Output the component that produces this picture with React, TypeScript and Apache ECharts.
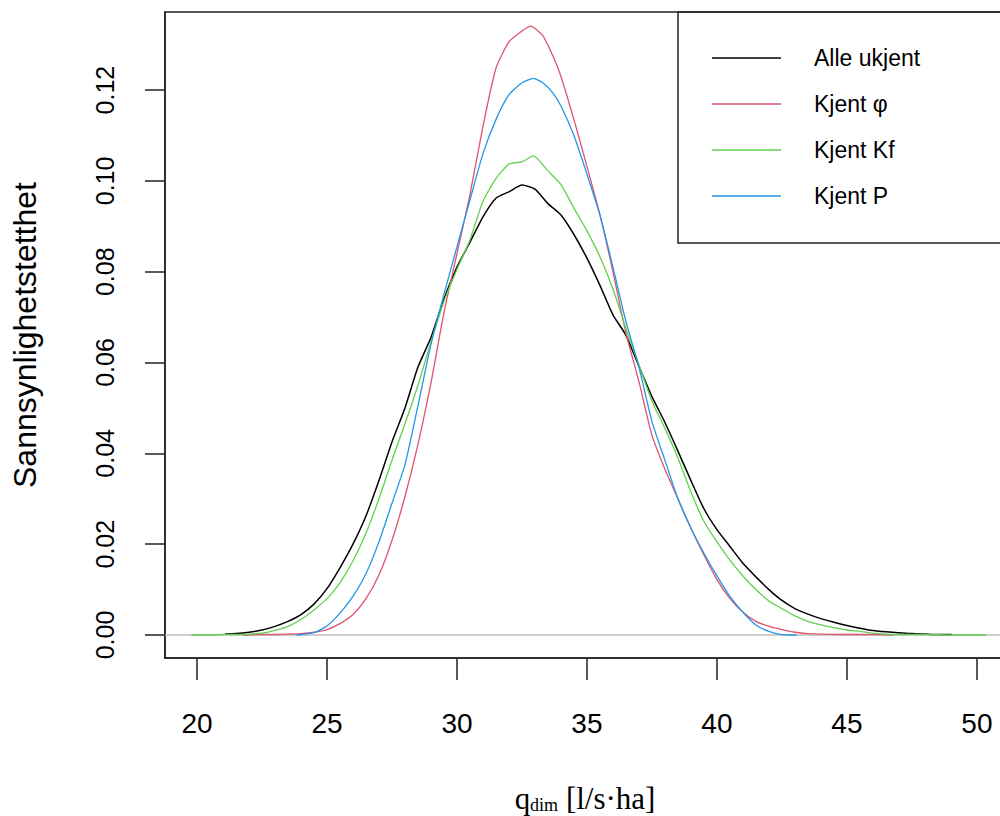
import React, { useEffect, useRef } from "react";
import * as echarts from "echarts";

// Axis ranges and ticks
const X_MIN = 18.77;
const X_MAX = 51.08;
const Y_MIN = -0.00507;
const Y_MAX = 0.1372;
const xTicks = [20, 25, 30, 35, 40, 45, 50];
const yTicks = [0, 0.02, 0.04, 0.06, 0.08, 0.1, 0.12];

const seriesNames = ["Alle ukjent", "Kjent φ", "Kjent Kf", "Kjent P"];
const seriesColors = ["#000000", "#DF536B", "#61D04F", "#2297E6"];

// Alle ukjent (black)
const xAlle = [21.08, 21.5, 22, 22.5, 23, 23.5, 24, 24.5, 25, 25.5, 26, 26.5, 27, 27.5, 28, 28.5, 29, 29.5, 30, 30.5, 31, 31.5, 32, 32.5, 33, 33.5, 34, 34.5, 35, 35.5, 36, 36.5, 37, 37.5, 38, 38.5, 39, 39.5, 40, 40.5, 41, 41.5, 42, 42.5, 43, 43.5, 44, 44.5, 45, 45.5, 46, 46.5, 47, 47.5, 48, 48.5, 49.03];
const yAlle = [0.0002, 0.0003, 0.0006, 0.0011, 0.0019, 0.003, 0.0045, 0.0068, 0.0102, 0.0148, 0.02, 0.0262, 0.034, 0.0425, 0.05, 0.059, 0.0655, 0.074, 0.081, 0.0865, 0.0921, 0.0962, 0.0976, 0.0991, 0.0982, 0.095, 0.0925, 0.0882, 0.083, 0.077, 0.0705, 0.066, 0.0592, 0.0525, 0.0468, 0.0405, 0.034, 0.0278, 0.0232, 0.0195, 0.0158, 0.0128, 0.01, 0.0076, 0.0058, 0.0046, 0.0036, 0.0028, 0.0021, 0.0015, 0.001, 0.0007, 0.0005, 0.0003, 0.0002, 0.0001, 0.0001];

// Kjent φ (red)
const xPhi = [21.77, 22.5, 23, 23.5, 24, 24.5, 25, 25.5, 26, 26.5, 27, 27.5, 28, 28.5, 29, 29.5, 30, 30.5, 31, 31.5, 32, 32.5, 32.83, 33.3, 33.7, 34, 34.5, 35, 35.5, 36, 36.5, 37, 37.5, 38, 38.5, 39, 39.5, 40, 40.5, 41, 41.5, 42, 42.5, 43, 43.5, 44, 45, 46, 46.76];
const yPhi = [0, 0.0001, 0.0001, 0.0002, 0.0003, 0.0006, 0.0012, 0.0025, 0.0045, 0.008, 0.0132, 0.0208, 0.0305, 0.042, 0.0555, 0.071, 0.084, 0.097, 0.112, 0.1248, 0.1306, 0.133, 0.1341, 0.132, 0.1274, 0.123, 0.1135, 0.1032, 0.0925, 0.08, 0.0665, 0.0558, 0.044, 0.0365, 0.03, 0.0235, 0.0176, 0.0122, 0.008, 0.005, 0.003, 0.0019, 0.0012, 0.0006, 0.0003, 0.0002, 0.0001, 0.0001, 0];

// Kjent Kf (green)
const xKf = [19.78, 20.5, 21, 21.5, 22, 22.5, 23, 23.5, 24, 24.5, 25, 25.5, 26, 26.5, 27, 27.5, 28, 28.5, 29, 29.5, 30, 30.5, 31, 31.5, 32, 32.5, 32.94, 33.5, 34, 34.5, 35, 35.5, 36, 36.5, 37, 37.5, 38, 38.5, 39, 39.5, 40, 40.5, 41, 41.5, 42, 42.5, 43, 43.5, 44, 44.5, 45, 45.5, 46, 46.5, 47, 48, 49, 50.37];
const yKf = [0, 0, 0.0001, 0.0001, 0.0002, 0.0004, 0.001, 0.0019, 0.0034, 0.0055, 0.008, 0.0115, 0.0163, 0.0224, 0.03, 0.0385, 0.0465, 0.055, 0.0645, 0.0735, 0.0805, 0.087, 0.0955, 0.1005, 0.1037, 0.1042, 0.1055, 0.1022, 0.0992, 0.094, 0.089, 0.0833, 0.0762, 0.0675, 0.0595, 0.0515, 0.0455, 0.039, 0.0315, 0.025, 0.0205, 0.0165, 0.013, 0.01, 0.0075, 0.0058, 0.0042, 0.003, 0.0022, 0.0016, 0.0011, 0.0008, 0.0004, 0.0002, 0.0001, 0.0001, 0, 0];

// Kjent P (blue)
const xP = [23.83, 24.5, 25, 25.5, 26, 26.5, 27, 27.5, 28, 28.5, 29, 29.5, 30, 30.5, 31, 31.5, 32, 32.5, 32.94, 33.3, 33.7, 34, 34.5, 35, 35.5, 36, 36.5, 37, 37.5, 38, 38.5, 39, 39.5, 40, 40.5, 41, 41.5, 42, 42.5, 43.07];
const yP = [0, 0.0005, 0.002, 0.0048, 0.0085, 0.0135, 0.0205, 0.029, 0.0375, 0.0505, 0.064, 0.075, 0.0855, 0.0958, 0.106, 0.1135, 0.119, 0.1216, 0.1226, 0.1216, 0.1193, 0.1165, 0.11, 0.1015, 0.0925, 0.081, 0.069, 0.059, 0.047, 0.0385, 0.03, 0.0235, 0.018, 0.013, 0.0085, 0.005, 0.0022, 0.0008, 0.0001, 0];

const seriesX = [xAlle, xPhi, xKf, xP];
const seriesY = [yAlle, yPhi, yKf, yP];

const zip = (xs: number[], ys: number[]) => xs.map((x, i) => [x, ys[i]]);

const SANS = "'Liberation Sans', Arial, sans-serif";
const SERIF = "'Liberation Serif', 'Times New Roman', serif";
const AXIS_COLOR = "#222";

export default function App() {
  const ref = useRef<HTMLDivElement>(null);

  useEffect(() => {
    if (!ref.current) return;
    const chart = echarts.init(ref.current, null, { renderer: "svg" });

    const curves = seriesNames.map((name, i) => ({
      name,
      type: "line",
      data: zip(seriesX[i], seriesY[i]),
      symbol: "none",
      smooth: 0.2,
      lineStyle: { color: seriesColors[i], width: i === 0 ? 1.5 : 1.3 },
      itemStyle: { color: seriesColors[i] },
      z: 3 + i,
    }));

    const option: any = {
      animation: false,
      backgroundColor: "#fff",
      grid: {
        left: 165,
        top: 12,
        width: 840,
        height: 646,
        show: true,
        borderColor: AXIS_COLOR,
        borderWidth: 1.5,
        backgroundColor: "transparent",
        outerBoundsMode: "none",
        containLabel: false,
      },
      legend: {
        orient: "vertical",
        left: 712,
        top: 46,
        padding: 0,
        data: seriesNames,
        icon: "rect",
        itemWidth: 69,
        itemHeight: 1.5,
        itemGap: 22,
        selectedMode: false,
        textStyle: {
          fontFamily: SANS,
          fontSize: 23,
          color: "#000",
          padding: [0, 0, 0, 28],
          lineHeight: 24,
        },
      },
      xAxis: {
        type: "value",
        min: X_MIN,
        max: X_MAX,
        splitLine: { show: false },
        axisLine: { show: true, onZero: false, lineStyle: { color: AXIS_COLOR, width: 1.5 } },
        axisTick: {
          show: true,
          customValues: xTicks,
          length: 22,
          lineStyle: { color: AXIS_COLOR, width: 1.5 },
        },
        axisLabel: {
          customValues: xTicks,
          fontFamily: SANS,
          fontSize: 28,
          color: "#000",
          margin: 51,
          formatter: (v: number) => String(v),
        },
        name: "{q|q}{s|dim}{n| [l/s·ha]}",
        nameLocation: "middle",
        nameGap: 122,
        nameTextStyle: {
          rich: {
            q: { fontFamily: SERIF, fontSize: 31, lineHeight: 34, color: "#000", verticalAlign: "bottom" },
            s: { fontFamily: SERIF, fontSize: 18, lineHeight: 34, color: "#000", verticalAlign: "bottom" },
            n: { fontFamily: SERIF, fontSize: 31, lineHeight: 34, color: "#000", verticalAlign: "bottom" },
          },
        },
      },
      yAxis: {
        type: "value",
        min: Y_MIN,
        max: Y_MAX,
        splitLine: { show: false },
        axisLine: { show: true, onZero: false, lineStyle: { color: AXIS_COLOR, width: 1.5 } },
        axisTick: {
          show: true,
          customValues: yTicks,
          length: 20,
          lineStyle: { color: AXIS_COLOR, width: 1.5 },
        },
        axisLabel: {
          customValues: yTicks,
          rotate: 90,
          fontFamily: SANS,
          fontSize: 25,
          color: "#000",
          margin: 48,
          formatter: (v: number) => v.toFixed(2),
        },
        name: "Sannsynlighetstetthet",
        nameLocation: "middle",
        nameRotate: 90,
        nameGap: 124,
        nameTextStyle: {
          fontFamily: SANS,
          fontSize: 32,
          color: "#000",
        },
      },
      graphic: [
        {
          type: "rect",
          shape: { x: 678, y: 12, width: 340, height: 231 },
          style: { fill: "none", stroke: AXIS_COLOR, lineWidth: 1.5 },
          silent: true,
          z: 10,
        },
      ],
      series: [
        {
          name: "zero",
          type: "line",
          data: [
            [X_MIN, 0],
            [X_MAX, 0],
          ],
          symbol: "none",
          lineStyle: { color: "#bebebe", width: 1.5 },
          z: 1,
          silent: true,
        },
        ...curves,
      ],
    };

    chart.setOption(option);
    return () => chart.dispose();
  }, []);

  return (
    <div
      ref={ref}
      style={{ position: "fixed", left: 0, top: 0, width: 1000, height: 816, background: "#fff" }}
    />
  );
}
